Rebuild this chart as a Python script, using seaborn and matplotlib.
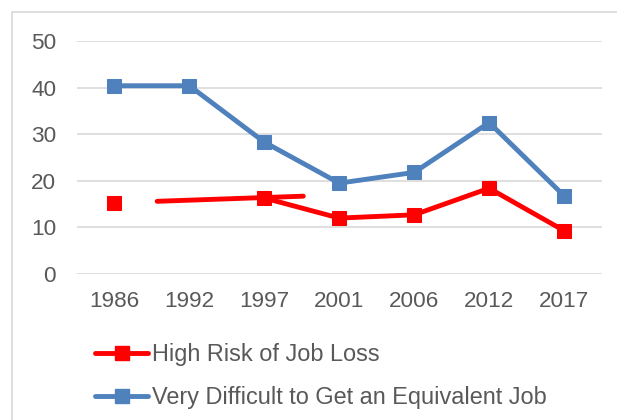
import matplotlib
matplotlib.use("Agg")
import matplotlib.pyplot as plt
from matplotlib.lines import Line2D
import numpy as np
import pandas as pd
import seaborn as sns

years = ["1986", "1992", "1997", "2001", "2006", "2012", "2017"]
high_risk = [15.2, np.nan, 16.3, 12.0, 12.7, 18.4, 9.3]
very_difficult = [40.4, 40.4, 28.3, 19.5, 21.8, 32.5, 16.8]
# stray red segment visible in the original (category-position units)
stray_x = [0.57, 2.52]
stray_y = [15.6, 16.7]
yticks = [0, 10, 20, 30, 40, 50]
labels = ["High Risk of Job Loss", "Very Difficult to Get an Equivalent Job"]

RED = "#FF0000"
BLUE = "#4F81BD"
GRAY = "#595959"
GRID = "#D9D9D9"

sns.set_theme(style="white")
plt.rcParams["font.family"] = ["Liberation Sans", "DejaVu Sans"]

pos = list(range(len(years)))
# split red into contiguous runs (gap at 1992)
units = []
u = 0
prev_nan = False
for v in high_risk:
    if np.isnan(v):
        prev_nan = True
        units.append(-1)
        continue
    if prev_nan:
        u += 1
        prev_nan = False
    units.append(u)
red_df = pd.DataFrame({"x": pos, "y": high_risk, "u": units}).dropna()
blue_df = pd.DataFrame({"x": pos, "y": very_difficult})
stray_df = pd.DataFrame({"x": stray_x, "y": stray_y})

fig = plt.figure(figsize=(6.17, 4.20), dpi=100)
ax = fig.add_axes([77 / 617, 1 - 274 / 420, (601.5 - 77) / 617, (274 - 41) / 420])

lw = 3.5
ms = 10.5
sns.lineplot(data=stray_df, x="x", y="y", ax=ax, color=RED, linewidth=lw,
             estimator=None, sort=False, legend=False)
sns.lineplot(data=red_df, x="x", y="y", units="u", estimator=None, ax=ax,
             color=RED, linewidth=lw, marker="s", markersize=ms,
             markeredgecolor=RED, markerfacecolor=RED, legend=False)
sns.lineplot(data=blue_df, x="x", y="y", ax=ax, color=BLUE, linewidth=lw,
             marker="s", markersize=ms, markeredgecolor=BLUE,
             markerfacecolor=BLUE, legend=False)

ax.set_xlim(-0.5, len(years) - 0.5)
ax.set_ylim(0, 50)
ax.set_xticks(pos)
ax.set_xticklabels(years)
ax.set_yticks(yticks)
ax.set_xlabel("")
ax.set_ylabel("")
ax.yaxis.grid(True, color=GRID, linewidth=1.2)
ax.set_axisbelow(True)
for s in ax.spines.values():
    s.set_visible(False)
ax.tick_params(axis="both", length=0, labelsize=16.2, labelcolor=GRAY)
ax.tick_params(axis="y", pad=15)
ax.tick_params(axis="x", pad=12)

handles = [
    Line2D([], [], color=RED, linewidth=lw, marker="s", markersize=ms),
    Line2D([], [], color=BLUE, linewidth=lw, marker="s", markersize=ms),
]
fig.legend(handles, labels, loc="upper left", bbox_to_anchor=(86 / 617, 1 - 334 / 420),
           frameon=False, fontsize=16.9, labelcolor=GRAY, handlelength=2.25,
           handletextpad=0.15, labelspacing=0.85, borderaxespad=0)

# chart area border (top and left visible)
fig.add_artist(Line2D([12 / 617, 12 / 617], [0, 1 - 12 / 420], transform=fig.transFigure,
                      color=GRID, linewidth=1.2))
fig.add_artist(Line2D([12 / 617, 1], [1 - 12 / 420, 1 - 12 / 420], transform=fig.transFigure,
                      color=GRID, linewidth=1.2))

fig.savefig("out.png", dpi=100)
